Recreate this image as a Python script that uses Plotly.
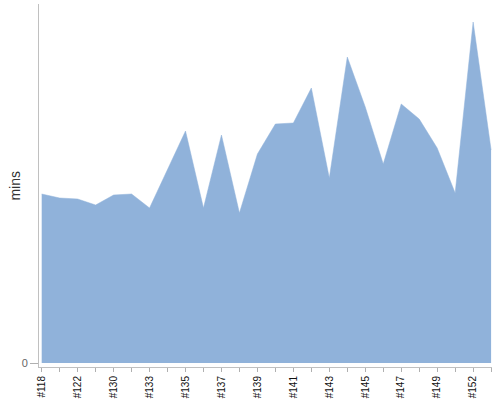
import plotly.graph_objects as go

# Build numbers (every other one labelled on the axis)
builds = ["#118", "#120", "#122", "#126", "#130", "#131", "#133", "#134", "#135",
          "#136", "#137", "#138", "#139", "#140", "#141", "#142", "#143", "#144",
          "#145", "#146", "#147", "#148", "#149", "#150", "#152", "#153"]
labelled = ["#118", "#122", "#130", "#133", "#135", "#137", "#139", "#141",
            "#143", "#145", "#147", "#149", "#152"]
# Duration in minutes
mins = [16.9, 16.5, 16.4, 15.8, 16.8, 16.9, 15.5, 19.4, 23.2, 15.5, 22.8, 15.0,
        20.9, 23.9, 24.0, 27.5, 18.5, 30.6, 25.6, 19.9, 25.9, 24.4, 21.5, 17.0,
        34.1, 21.3]

idx = list(range(len(builds)))
tick_text = [b if b in labelled else "" for b in builds]

fig = go.Figure()
fig.add_trace(
    go.Scatter(
        x=idx,
        y=mins,
        mode="lines",
        fill="tozeroy",
        fillcolor="#90b2da",
        line=dict(color="#90b2da", width=0.5),
        hoverinfo="y",
    )
)

fig.update_layout(
    width=500,
    height=400,
    margin=dict(l=39, r=8, t=4, b=33, autoexpand=False),
    paper_bgcolor="white",
    plot_bgcolor="white",
    showlegend=False,
    font=dict(family="Liberation Sans, Arial, sans-serif", color="#222"),
)
fig.update_xaxes(
    automargin=False,
    range=[-0.15, len(builds) - 1 + 0.05],
    tickmode="array",
    tickvals=idx,
    ticktext=tick_text,
    tickangle=-90,
    tickfont=dict(size=10, color="#111"),
    ticks="outside",
    ticklen=4,
    tickcolor="#b0b0b0",
    showline=True,
    linecolor="#c0c0c0",
    showgrid=False,
    zeroline=False,
)
fig.update_yaxes(
    automargin=False,
    range=[-0.4, 35.9],
    tickmode="array",
    tickvals=[0],
    tickfont=dict(size=11, color="#666"),
    ticks="outside",
    ticklen=8,
    tickcolor="#b0b0b0",
    showline=True,
    linecolor="#c0c0c0",
    showgrid=False,
    zeroline=False,
)

# y title as annotation, so it can sit where the original has it
fig.add_annotation(
    text="mins",
    xref="paper",
    yref="paper",
    x=-0.055,
    y=0.5,
    xanchor="center",
    yanchor="middle",
    textangle=-90,
    showarrow=False,
    font=dict(size=14, color="#333"),
)

# page body has a default 8px margin, drop it so the figure sits at 0,0
fig.write_html(
    "out.html",
    config={"displayModeBar": False},
    post_script="document.body.style.margin='0px';",
)
